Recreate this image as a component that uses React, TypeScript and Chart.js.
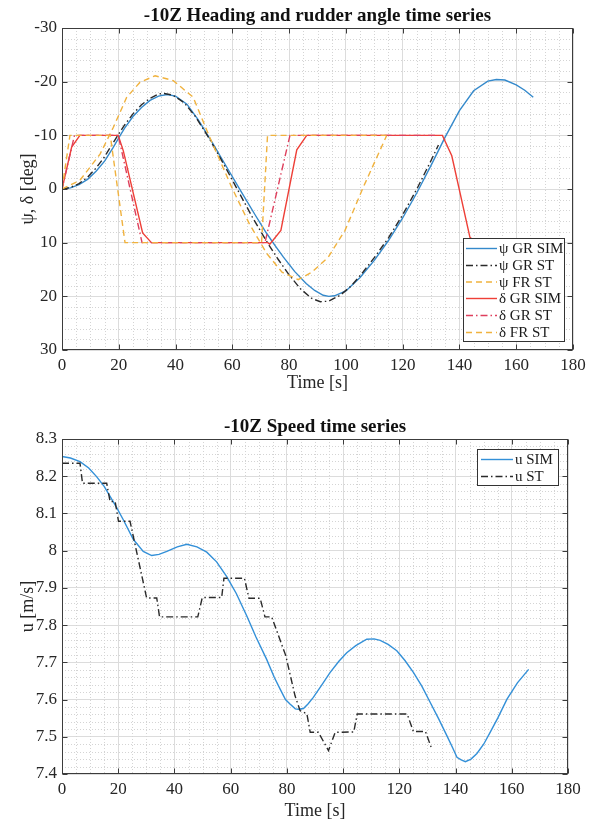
import React, { useEffect, useRef } from "react";
import { Chart, registerables } from "chart.js";

Chart.register(...registerables);

const SERIF = '"Liberation Serif", "Times New Roman", serif';

// ---------- axis ticks ----------
const xTickValues = [0, 20, 40, 60, 80, 100, 120, 140, 160, 180];
const yTickValuesTop = [-30, -20, -10, 0, 10, 20, 30];
const yTickValuesBottom = [7.4, 7.5, 7.6, 7.7, 7.8, 7.9, 8, 8.1, 8.2, 8.3];

// ---------- top chart: heading and rudder angle ----------
const psiGrSimT = [0, 3, 6, 9, 12, 15, 18, 20.3, 22, 25, 28, 31, 34, 37, 40, 44, 48, 53, 58, 63, 68, 72, 75, 78, 82, 86, 89, 92, 94, 96, 100, 105, 110, 115, 120, 125, 130, 135, 140, 145, 150, 153, 156, 160, 163, 166];
const psiGrSimV = [0, -0.2, -0.8, -1.8, -3.3, -5.2, -7.7, -9.8, -11.3, -13.5, -15.2, -16.5, -17.3, -17.6, -17.3, -15.8, -12.9, -8.6, -4.1, 0.4, 4.8, 8.2, 10.5, 12.7, 15.4, 17.6, 18.9, 19.8, 20.0, 19.9, 19.0, 16.5, 13.3, 9.6, 5.4, 0.7, -4.4, -9.7, -14.6, -18.3, -20.1, -20.4, -20.3, -19.4, -18.4, -17.1];

const psiGrStT = [0, 3, 6, 9, 12, 15, 18, 19.8, 22, 25, 28, 31, 34, 36, 39, 43, 47, 52, 57, 62, 67, 72, 76, 80, 84, 88, 91, 94, 98, 102, 106, 110, 115, 120, 125, 130, 132.6];
const psiGrStV = [0, -0.3, -1.0, -2.2, -3.9, -6.0, -8.6, -10.1, -11.9, -14.0, -15.7, -16.9, -17.7, -17.8, -17.5, -16.1, -13.5, -9.3, -4.6, 0.3, 5.2, 9.7, 13.0, 16.0, 18.6, 20.4, 21.0, 20.9, 19.8, 18.0, 15.5, 12.8, 9.1, 4.8, 0.0, -5.3, -8.2];

const psiFrStT = [0, 6.3, 13.4, 18.1, 22.8, 27.5, 32.8, 39.2, 46.2, 51.5, 59.8, 66, 72.1, 77.5, 83.2, 88, 93.8, 99.7, 106.1, 114.4];
const psiFrStV = [0, -1.6, -6.5, -11.5, -17.1, -19.9, -21.1, -20.2, -17.1, -10.3, -0.3, 6.5, 12, 15.5, 16.9, 15.5, 12.7, 7.7, -0.3, -10];

const deltaGrSimT = [0, 3.4, 6.3, 19.8, 21.6, 28.4, 31.5, 72.5, 73.2, 77.1, 82.7, 86.2, 134, 137.3, 143.7, 146, 166];
const deltaGrSimV = [0, -7.8, -10, -10, -7.1, 8.2, 10, 10, 10.3, 7.7, -7.3, -10, -10, -6.2, 9, 10, 10];

const deltaGrStT = [0, 4.4, 19.8, 28.2, 71.5, 80.3, 131.6];
const deltaGrStV = [0, -10, -10, 10, 10, -10, -10];

const deltaFrStT = [0, 2.8, 17, 22.2, 70.3, 72.4, 114.4];
const deltaFrStV = [0, -10, -10, 10, 10, -10, -10];

// ---------- bottom chart: speed ----------
const uSimT = [0, 3, 6.4, 9.5, 12.3, 15, 17.1, 19.5, 21.8, 25.4, 28.9, 31.9, 34.5, 37.3, 41, 44.4, 48, 51.5, 55, 58.6, 62, 65.7, 69, 72.8, 75.5, 77.6, 79.5, 81.1, 83, 84.1, 85.9, 87.5, 89.4, 92.5, 95.4, 98.5, 101.3, 104.5, 108.4, 111, 113.2, 116, 119.1, 122, 125, 128, 131, 134, 136.9, 139, 140.5, 142, 143.5, 145.5, 147.6, 150, 152.3, 155, 158.3, 162, 166];
const uSimV = [8.253, 8.249, 8.239, 8.222, 8.199, 8.173, 8.146, 8.115, 8.083, 8.03, 7.998, 7.987, 7.99, 7.998, 8.01, 8.017, 8.01, 7.996, 7.97, 7.93, 7.885, 7.825, 7.768, 7.708, 7.66, 7.628, 7.6, 7.588, 7.575, 7.574, 7.576, 7.588, 7.606, 7.64, 7.673, 7.703, 7.726, 7.745, 7.762, 7.763, 7.759, 7.748, 7.731, 7.705, 7.673, 7.636, 7.592, 7.548, 7.503, 7.47, 7.445, 7.438, 7.433, 7.44, 7.455, 7.48, 7.512, 7.55, 7.601, 7.645, 7.681];

const uStT = [0, 6.4, 7.3, 15.9, 17.1, 18.9, 20.1, 24.2, 30.1, 33.7, 34.7, 48.3, 49.9, 56.8, 57.6, 64.9, 66.5, 70.5, 72.2, 74.6, 79.6, 82.9, 84.7, 87.1, 88.3, 91.2, 94.8, 97.2, 103.8, 105, 122.8, 125, 129.3, 131.6];
const uStV = [8.235, 8.235, 8.181, 8.181, 8.132, 8.132, 8.079, 8.079, 7.873, 7.873, 7.822, 7.822, 7.874, 7.874, 7.926, 7.926, 7.872, 7.872, 7.822, 7.822, 7.718, 7.61, 7.57, 7.562, 7.512, 7.512, 7.463, 7.512, 7.513, 7.561, 7.561, 7.514, 7.514, 7.466];

// ---------- styles ----------
const C_BLUE = "#3489cb";
const C_BLUE2 = "#3390d8";
const C_BLACK = "#2a2a2a";
const C_ORANGE = "#f0b23e";
const C_RED = "#ee3f37";
const C_PINK = "#de3f5c";
const DASH = [6, 4];
const DASHDOT = [7, 3, 1.5, 3];
const SOLID: number[] = [];

const zip = (t: number[], v: number[]) => t.map((x, i) => ({ x, y: v[i] }));

type Series = { label: string; t: number[]; v: number[]; color: string; dash: number[] };

const topSeries: Series[] = [
  { label: "ψ GR SIM", t: psiGrSimT, v: psiGrSimV, color: C_BLUE, dash: SOLID },
  { label: "ψ GR ST", t: psiGrStT, v: psiGrStV, color: C_BLACK, dash: DASHDOT },
  { label: "ψ FR ST", t: psiFrStT, v: psiFrStV, color: C_ORANGE, dash: DASH },
  { label: "δ GR SIM", t: deltaGrSimT, v: deltaGrSimV, color: C_RED, dash: SOLID },
  { label: "δ GR ST", t: deltaGrStT, v: deltaGrStV, color: C_PINK, dash: DASHDOT },
  { label: "δ FR ST", t: deltaFrStT, v: deltaFrStV, color: C_ORANGE, dash: DASH },
];

const bottomSeries: Series[] = [
  { label: "u SIM", t: uSimT, v: uSimV, color: C_BLUE2, dash: SOLID },
  { label: "u ST", t: uStT, v: uStV, color: C_BLACK, dash: DASHDOT },
];

type DecoCfg = {
  id: string;
  title: string;
  titleBaseline: number;
  xMin: number; xMax: number; xMinor: number; xEvery: number; xMajors: number[];
  yMin: number; yMax: number; yMinor: number; yEvery: number; yMajors: number[];
  legend: { x: number; y: number; w: number; h: number; rows: number[]; lx0: number; lx1: number; tx: number; font: number };
  series: Series[];
};

function makeDeco(cfg: DecoCfg) {
  return {
    id: "deco-" + cfg.id,
    beforeDatasetsDraw(chart: any) {
      const { ctx, chartArea: a } = chart;
      const xs = chart.scales.x;
      const ys = chart.scales.y;
      ctx.save();
      ctx.lineWidth = 1;
      ctx.strokeStyle = "#d4d4d4";
      ctx.setLineDash([1, 2]);
      const nx = Math.round((cfg.xMax - cfg.xMin) / cfg.xMinor);
      for (let k = 1; k < nx; k++) {
        if (k % cfg.xEvery === 0) continue;
        const p = Math.round(xs.getPixelForValue(cfg.xMin + k * cfg.xMinor)) + 0.5;
        ctx.beginPath();
        ctx.moveTo(p, a.top);
        ctx.lineTo(p, a.bottom);
        ctx.stroke();
      }
      const ny = Math.round((cfg.yMax - cfg.yMin) / cfg.yMinor);
      for (let k = 1; k < ny; k++) {
        if (k % cfg.yEvery === 0) continue;
        const p = Math.round(ys.getPixelForValue(cfg.yMin + k * cfg.yMinor)) + 0.5;
        ctx.beginPath();
        ctx.moveTo(a.left, p);
        ctx.lineTo(a.right, p);
        ctx.stroke();
      }
      ctx.restore();
    },
    afterDatasetsDraw(chart: any) {
      const { ctx, chartArea: a } = chart;
      const xs = chart.scales.x;
      const ys = chart.scales.y;
      ctx.save();
      ctx.setLineDash([]);
      ctx.strokeStyle = "#3c3c3c";
      ctx.lineWidth = 1;
      const L = Math.round(a.left) + 0.5;
      const R = Math.round(a.right) - 0.5;
      const T = Math.round(a.top) + 0.5;
      const B = Math.round(a.bottom) - 0.5;
      ctx.strokeRect(L, T, R - L, B - T);
      const tl = 5;
      ctx.beginPath();
      for (const v of cfg.xMajors) {
        const p = Math.round(xs.getPixelForValue(v)) + 0.5;
        ctx.moveTo(p, B); ctx.lineTo(p, B - tl);
        ctx.moveTo(p, T); ctx.lineTo(p, T + tl);
      }
      for (const v of cfg.yMajors) {
        const p = Math.round(ys.getPixelForValue(v)) + 0.5;
        ctx.moveTo(L, p); ctx.lineTo(L + tl, p);
        ctx.moveTo(R, p); ctx.lineTo(R - tl, p);
      }
      ctx.stroke();

      // legend
      const lg = cfg.legend;
      ctx.fillStyle = "#ffffff";
      ctx.fillRect(lg.x, lg.y, lg.w, lg.h);
      ctx.strokeStyle = "#333333";
      ctx.strokeRect(lg.x + 0.5, lg.y + 0.5, lg.w - 1, lg.h - 1);
      ctx.font = `${lg.font}px ${SERIF}`;
      ctx.textAlign = "left";
      ctx.textBaseline = "middle";
      cfg.series.forEach((s, i) => {
        const y = lg.rows[i];
        ctx.strokeStyle = s.color;
        ctx.lineWidth = 1.4;
        ctx.setLineDash(s.dash);
        ctx.beginPath();
        ctx.moveTo(lg.lx0, y);
        ctx.lineTo(lg.lx1, y);
        ctx.stroke();
        ctx.fillStyle = "#1a1a1a";
        ctx.fillText(s.label, lg.tx, y + 1);
      });
      ctx.restore();
    },
    afterDraw(chart: any) {
      const { ctx, chartArea: a } = chart;
      ctx.save();
      ctx.font = `bold 19px ${SERIF}`;
      ctx.fillStyle = "#111111";
      ctx.textAlign = "center";
      ctx.textBaseline = "alphabetic";
      ctx.fillText(cfg.title, (a.left + a.right) / 2, cfg.titleBaseline);
      ctx.restore();
    },
  };
}

function buildChart(
  canvas: HTMLCanvasElement,
  series: Series[],
  deco: DecoCfg,
  yOpts: { min: number; max: number; reverse: boolean; ticks: number[]; title: string; fmt: (v: number) => string },
  layout: { top: number; right: number; xHeight: number; xTitlePad: number }
) {
  const n = series.length;
  const tickFont = { family: SERIF, size: 17 };
  const titleFont = { family: SERIF, size: 18 };
  return new Chart(canvas, {
    type: "line",
    data: {
      datasets: series.map((s, i) => ({
        label: s.label,
        data: zip(s.t, s.v),
        borderColor: s.color,
        backgroundColor: s.color,
        borderDash: s.dash,
        borderWidth: 1.4,
        pointRadius: 0,
        tension: 0,
        fill: false,
        order: n - i,
      })),
    },
    options: {
      animation: false,
      responsive: false,
      devicePixelRatio: 1,
      events: [],
      layout: { padding: { top: layout.top, right: layout.right, left: 0, bottom: 0 } },
      plugins: { legend: { display: false }, title: { display: false }, tooltip: { enabled: false } },
      scales: {
        x: {
          type: "linear",
          min: 0,
          max: 180,
          afterBuildTicks: (s: any) => { s.ticks = xTickValues.map((v) => ({ value: v })); },
          afterFit: (s: any) => { s.height = layout.xHeight; },
          ticks: { font: tickFont, color: "#262626", padding: 5, maxRotation: 0, autoSkip: false, callback: (v: any) => String(v) },
          grid: { color: "#dcdcdc", lineWidth: 1, drawTicks: false },
          border: { display: false },
          title: { display: true, text: "Time [s]", font: titleFont, color: "#262626", padding: { top: 0, bottom: layout.xTitlePad } },
        },
        y: {
          type: "linear",
          min: yOpts.min,
          max: yOpts.max,
          reverse: yOpts.reverse,
          afterBuildTicks: (s: any) => { s.ticks = yOpts.ticks.map((v) => ({ value: v })); },
          afterFit: (s: any) => { s.width = 62; },
          ticks: { font: tickFont, color: "#262626", padding: 5, autoSkip: false, callback: (v: any) => yOpts.fmt(Number(v)) },
          grid: { color: "#dcdcdc", lineWidth: 1, drawTicks: false },
          border: { display: false },
          title: { display: true, text: yOpts.title, font: titleFont, color: "#262626", padding: { top: 17, bottom: 0 } },
        },
      },
    },
    plugins: [makeDeco(deco)],
  } as any);
}

export default function App() {
  const topRef = useRef<HTMLCanvasElement | null>(null);
  const botRef = useRef<HTMLCanvasElement | null>(null);

  useEffect(() => {
    const top = buildChart(
      topRef.current!,
      topSeries,
      {
        id: "top",
        title: "-10Z Heading and rudder angle time series",
        titleBaseline: 21,
        xMin: 0, xMax: 180, xMinor: 5, xEvery: 4, xMajors: xTickValues,
        yMin: -30, yMax: 30, yMinor: 2, yEvery: 5, yMajors: yTickValuesTop,
        legend: { x: 463, y: 238, w: 102, h: 104, rows: [248.5, 265.5, 282, 298.5, 315.5, 332.5], lx0: 466, lx1: 497, tx: 499, font: 15 },
        series: topSeries,
      },
      { min: -30, max: 30, reverse: true, ticks: yTickValuesTop, title: "ψ, δ [deg]", fmt: (v) => String(v) },
      { top: 28, right: 22, xHeight: 50, xTitlePad: 6 }
    );
    const bot = buildChart(
      botRef.current!,
      bottomSeries,
      {
        id: "bot",
        title: "-10Z Speed time series",
        titleBaseline: 32,
        xMin: 0, xMax: 180, xMinor: 5, xEvery: 4, xMajors: xTickValues,
        yMin: 7.4, yMax: 8.3, yMinor: 0.02, yEvery: 5, yMajors: yTickValuesBottom,
        legend: { x: 477, y: 49, w: 82, h: 37, rows: [59.5, 76.5], lx0: 481, lx1: 513, tx: 515, font: 15 },
        series: bottomSeries,
      },
      { min: 7.4, max: 8.3, reverse: false, ticks: yTickValuesBottom, title: "u [m/s]", fmt: (v) => v.toFixed(1).replace(/\.0$/, "") },
      { top: 39, right: 27, xHeight: 50, xTitlePad: 2 }
    );
    return () => {
      top.destroy();
      bot.destroy();
    };
  }, []);

  return (
    <div style={{ position: "absolute", left: 0, top: 0, width: 595, height: 824, background: "#ffffff" }}>
      <canvas ref={topRef} width={595} height={400} style={{ position: "absolute", left: 0, top: 0, width: 595, height: 400 }} />
      <canvas ref={botRef} width={595} height={424} style={{ position: "absolute", left: 0, top: 400, width: 595, height: 424 }} />
    </div>
  );
}
